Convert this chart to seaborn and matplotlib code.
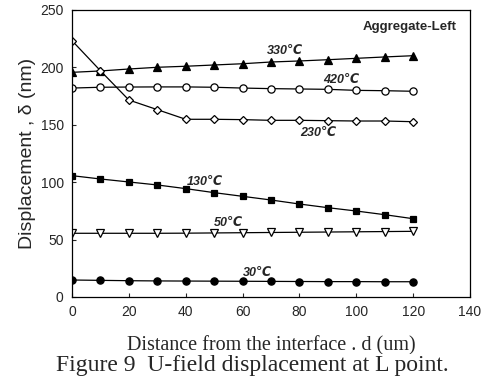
import numpy as np
import pandas as pd
import matplotlib
matplotlib.use("Agg")
import matplotlib.pyplot as plt
import seaborn as sns

# distance from the interface (um)
distance = [0, 10, 20, 30, 40, 50, 60, 70, 80, 90, 100, 110, 120]

# displacement (nm) at each temperature
t330 = [195.7, 196.9, 198.6, 200.1, 201.0, 202.1, 203.2, 204.7, 205.6, 206.7, 207.9, 209.1, 210.2]
t420 = [182.0, 182.7, 182.9, 183.0, 183.0, 182.7, 182.0, 181.5, 181.2, 180.9, 180.0, 179.7, 179.2]
t230 = [223.3, 197.1, 171.6, 163.2, 154.8, 154.8, 154.5, 153.9, 153.9, 153.6, 153.3, 153.3, 152.7]
t130 = [105.7, 102.8, 100.2, 97.6, 94.4, 90.9, 87.7, 84.5, 81.0, 77.8, 74.9, 71.7, 68.2]
t50 = [55.5, 55.5, 55.5, 55.5, 55.6, 55.8, 56.0, 56.2, 56.4, 56.6, 56.8, 57.0, 57.2]
t30 = [14.8, 14.5, 14.2, 14.0, 13.9, 13.8, 13.7, 13.6, 13.5, 13.4, 13.4, 13.3, 13.3]

labels = ["330℃", "420℃", "230℃", "130℃", "50℃", "30℃"]
label_pos = [(74.9, 214.3), (94.6, 189.0), (86.5, 142.9), (46.8, 100.2), (54.9, 64.5), (65.1, 20.9)]

sns.set_style("ticks")
plt.rcParams["font.family"] = ["Liberation Sans", "DejaVu Sans"]

fig = plt.figure(figsize=(4.87, 3.79), dpi=100)
ax = fig.add_axes([72 / 487, 82 / 379, 398 / 487, 287 / 379])

series = [
    (t330, "^", "black", 5.2),
    (t420, "o", "white", 5.2),
    (t230, "D", "white", 4.5),
    (t130, "s", "black", 4.8),
    (t50, "v", "white", 5.2),
    (t30, "o", "black", 5.2),
]
for vals, mk, fc, ms in series:
    df = pd.DataFrame({"d": distance, "v": vals})
    sns.lineplot(data=df, x="d", y="v", ax=ax, color="black", linewidth=0.9,
                 marker=mk, markersize=ms, markerfacecolor=fc,
                 markeredgecolor="black", markeredgewidth=0.9)

for txt, (x, y) in zip(labels, label_pos):
    ax.text(x, y, txt, fontsize=9, fontweight="bold", fontstyle="italic",
            ha="center", va="center")
ax.text(118.9, 235.2, "Aggregate-Left", fontsize=9.5, fontweight="bold",
        ha="center", va="center")

ax.set_xlim(0, 140)
ax.set_ylim(0, 250)
ax.set_xticks(range(0, 141, 20))
ax.set_yticks(range(0, 251, 50))
ax.tick_params(direction="in", length=3, width=0.8, labelsize=10, pad=6)
for s in ax.spines.values():
    s.set_linewidth(0.9)
    s.set_color("black")
ax.set_xlabel("")
ax.set_ylabel("Displacement , δ (nm)", fontsize=14, labelpad=3)

fig.text(271 / 487, 1 - 350 / 379, "Distance from the interface . d (um)",
         family="Liberation Serif", fontsize=14.5, ha="center", va="baseline")
fig.text(252 / 487, 1 - 371 / 379, "Figure 9  U-field displacement at L point.",
         family="Liberation Serif", fontsize=17, ha="center", va="baseline",
         bbox=dict(facecolor="white", edgecolor="none", pad=0.5))

fig.savefig("out.png", dpi=100)
